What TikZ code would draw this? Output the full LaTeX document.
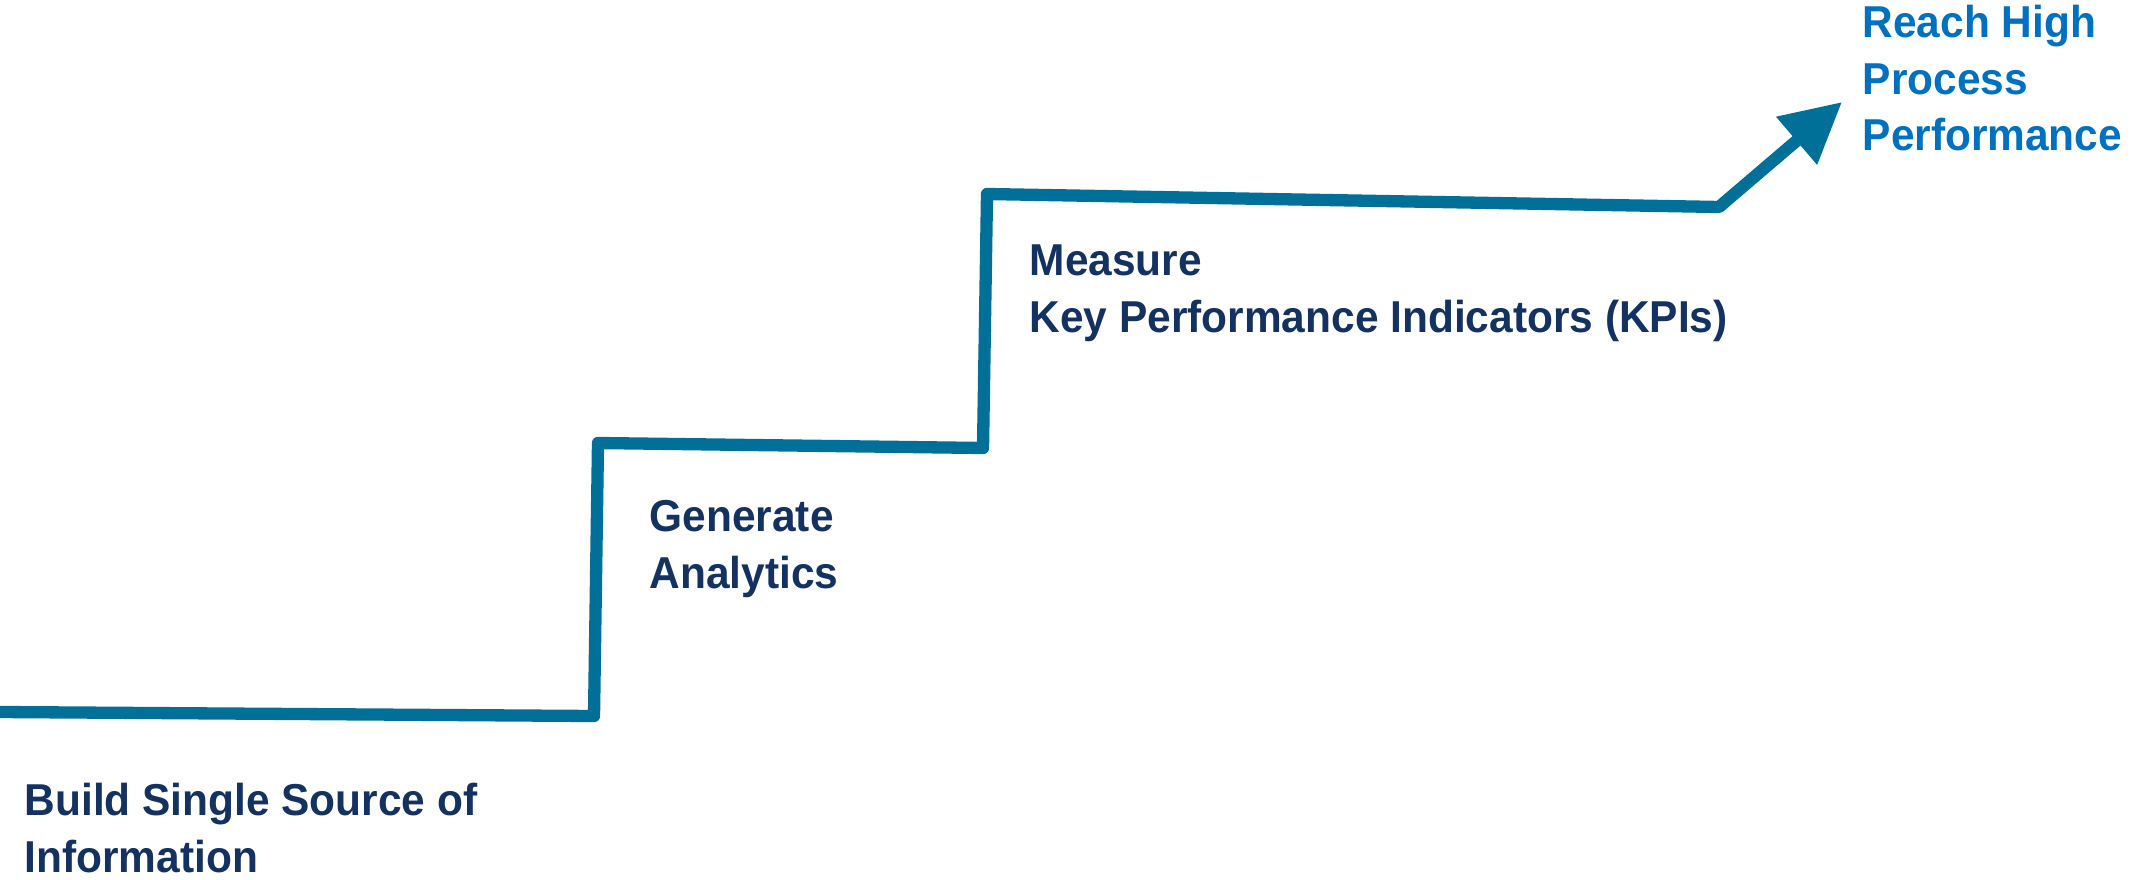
\documentclass[tikz,border=0pt]{standalone}
\usepackage{fontspec}
\setmainfont{Liberation Sans}[FakeStretch=0.95]
\usetikzlibrary{arrows.meta}
\definecolor{stepblue}{RGB}{0,112,153}
\definecolor{labelnavy}{RGB}{19,49,97}
\definecolor{goalblue}{RGB}{0,112,192}
\tikzset{
  stairline/.style={line width=3.5pt,color=stepblue,line join=round},
  steplabel/.style={anchor=base west,inner sep=0pt,align=left,text=labelnavy,
    font=\bfseries\fontsize{12.7}{16.2}\selectfont},
}
\begin{document}
\begin{tikzpicture}[x=0.01cm,y=-0.01cm]
  \useasboundingbox (0,0) rectangle (2131,879);
  % corners of the stairs
  \coordinate (s0) at (0,712);
  \coordinate (s1) at (594,716);
  \coordinate (s2) at (598,443);
  \coordinate (s3) at (983,448);
  \coordinate (s4) at (987,194);
  \coordinate (s5) at (1719,207);
  \coordinate (goal) at (1842,102);
  \draw[stairline,-{Triangle[length=17pt,width=17pt]}](s0)--(s1)--(s2)--(s3)--(s4)--(s5)--(goal);
  % labels of the steps (anchored at the last line)
  \node[steplabel](build) at (24,872){Build Single Source of\\Information};
  \node[steplabel](analytics) at (649,588){Generate\\Analytics};
  \node[steplabel](kpis) at (1029,332){Measure\\Key Performance Indicators (KPIs)};
  \node[steplabel,text=goalblue](reach) at (1862,151){Reach High\\Process\\Performance};
\end{tikzpicture}
\end{document}
